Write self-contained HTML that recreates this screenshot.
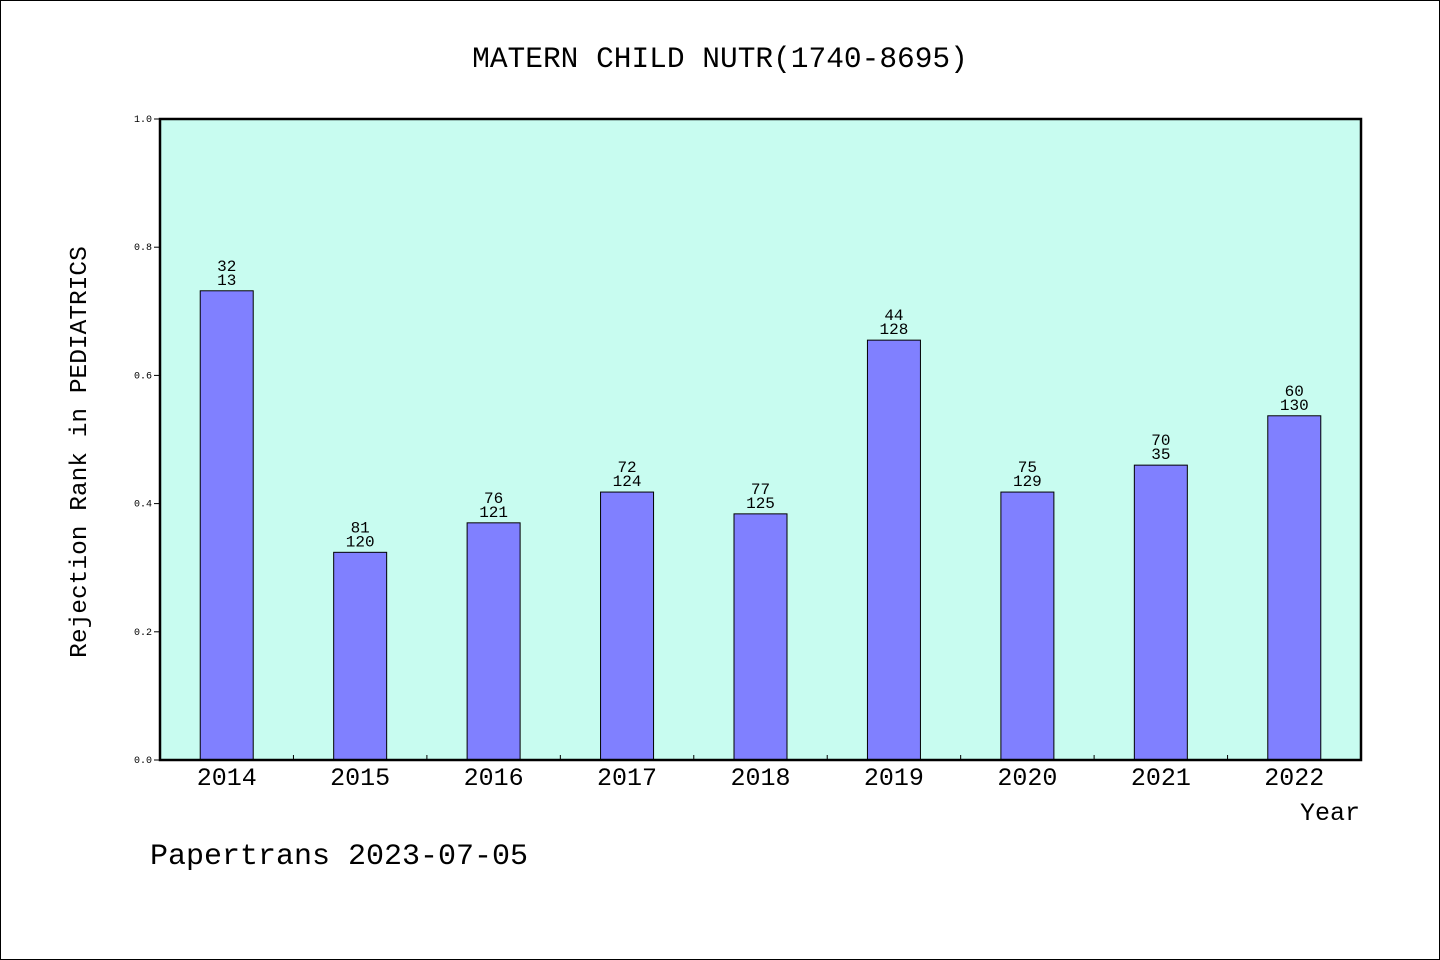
<!DOCTYPE html>
<html><head><meta charset="utf-8"><style>
body{margin:0;background:#fff}
svg{display:block}
text{font-family:"Liberation Mono","WenQuanYi Zen Hei",monospace;fill:#000}
</style></head><body>
<svg width="1440" height="960" viewBox="0 0 1440 960">
<rect x="0.5" y="0.5" width="1439" height="959" fill="#fff" stroke="#000"/>
<text x="720" y="67" font-size="29.5" text-anchor="middle">MATERN CHILD NUTR(1740-8695)</text>
<rect x="160" y="119" width="1201" height="641" fill="#c8fcf0"/>
<g id="bars"></g>
<g id="axes"></g>
<rect x="160" y="119" width="1201" height="641" fill="none" stroke="#000" stroke-width="2.5"/>
<text x="86" y="452" font-size="24.5" text-anchor="middle" transform="rotate(-90 86 452)">Rejection Rank in PEDIATRICS</text>
<text x="1360" y="820" font-size="25" text-anchor="end">Year</text>
<text x="150" y="864" font-size="30">Papertrans 2023-07-05</text>
</svg>
<script>
const categories=["2014","2015","2016","2017","2018","2019","2020","2021","2022"];
const values=[0.732,0.324,0.370,0.418,0.384,0.655,0.418,0.460,0.537];
const topLabels=["32","81","76","72","77","44","75","70","60"];
const bottomLabels=["13","120","121","124","125","128","129","35","130"];
const yTicks=[0,0.2,0.4,0.6,0.8,1.0];
const yTickLabels=["0.0","0.2","0.4","0.6","0.8","1.0"];
const NS="http://www.w3.org/2000/svg";
const X0=160,X1=1361,Y0=760,Y1=119;
const slot=(X1-X0)/categories.length;
const xs=i=>X0+slot*(i+0.5);
const ys=v=>Y0-(Y0-Y1)*v;
function mk(tag,attrs,parent,txt){const e=document.createElementNS(NS,tag);for(const k in attrs)e.setAttribute(k,attrs[k]);if(txt!==undefined)e.textContent=txt;parent.appendChild(e);return e;}
const gb=document.getElementById('bars'),ga=document.getElementById('axes');
categories.forEach((c,i)=>{
  const w=53,y=ys(values[i]);
  const r=mk('rect',{x:xs(i)-w/2,y:y,width:w,height:Y0-y,fill:'#8080ff',stroke:'#000','stroke-width':1},gb);
  
  
  const t1=mk('text',{x:xs(i),y:y-20,'font-size':16,'text-anchor':'middle'},gb,topLabels[i]);
  
  
  const t2=mk('text',{x:xs(i),y:y-6,'font-size':16,'text-anchor':'middle'},gb,bottomLabels[i]);
  
  
  const xl=mk('text',{x:xs(i),y:785,'font-size':25,'text-anchor':'middle'},ga,c);
  
  
  if(i>0){const tk=mk('line',{x1:X0+slot*i,x2:X0+slot*i,y1:Y0,y2:Y0-5,stroke:'#000'},ga);
  
  }
});
yTicks.forEach((v,i)=>{
  const tk=mk('line',{x1:X0-6,x2:X0,y1:ys(v),y2:ys(v),stroke:'#000'},ga);
  
  
  const tl=mk('text',{x:X0-8,y:ys(v)+3,'font-size':10,'text-anchor':'end'},ga,yTickLabels[i]);
  
  
});
</script>
</body></html>
